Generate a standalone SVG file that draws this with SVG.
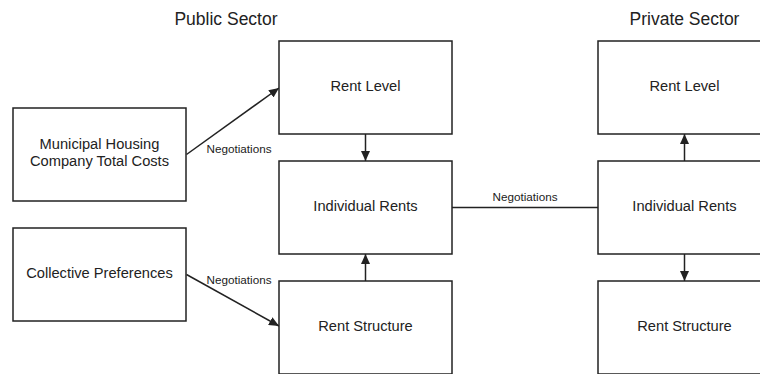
<svg xmlns="http://www.w3.org/2000/svg" width="760" height="374" viewBox="0 0 760 374">
<style>
.box{fill:#fff;stroke:#222;stroke-width:1.5}
.t{font-family:"Liberation Sans",Arial,sans-serif;font-size:14.67px;fill:#222;text-anchor:middle}
.h{font-family:"Liberation Sans",Arial,sans-serif;font-size:17.5px;fill:#222;text-anchor:middle}
.n{font-family:"Liberation Sans",Arial,sans-serif;font-size:11.7px;fill:#222;text-anchor:middle}
.c{fill:none;stroke:#222;stroke-width:1.5}
</style>
<defs>
<marker id="ah" viewBox="0 0 10 9" refX="10" refY="4.5" markerWidth="10" markerHeight="9" markerUnits="userSpaceOnUse" orient="auto">
<path d="M0,0 L10,4.5 L0,9 Z" fill="#222"/>
</marker>
</defs>
<rect width="760" height="374" fill="#fff"/>
<text class="h" x="226" y="25">Public Sector</text>
<text class="h" x="684.5" y="25">Private Sector</text>
<g id="connectors">
<line class="c" x1="186.5" y1="154.5" x2="279" y2="88" marker-end="url(#ah)"/>
<line class="c" x1="186.5" y1="274.5" x2="279" y2="326" marker-end="url(#ah)"/>
<line class="c" x1="365.5" y1="134" x2="365.5" y2="161" marker-end="url(#ah)"/>
<line class="c" x1="365.5" y1="281" x2="365.5" y2="254" marker-end="url(#ah)"/>
<line class="c" x1="452" y1="207.5" x2="598" y2="207.5"/>
<line class="c" x1="684.5" y1="161" x2="684.5" y2="134" marker-end="url(#ah)"/>
<line class="c" x1="684.5" y1="254" x2="684.5" y2="281" marker-end="url(#ah)"/>
<text class="n" x="239" y="152.5">Negotiations</text>
<text class="n" x="239" y="283.5">Negotiations</text>
<text class="n" x="525" y="200.5">Negotiations</text>
</g>
<g id="mhc">
<rect class="box" x="13" y="108" width="173" height="93"/>
<text class="t" x="99.5" y="148.5">Municipal Housing</text>
<text class="t" x="99.5" y="165.5">Company Total Costs</text>
</g>
<g id="cp">
<rect class="box" x="13" y="228" width="173" height="93"/>
<text class="t" x="99.5" y="278">Collective Preferences</text>
</g>
<g id="pub-rl">
<rect class="box" x="279" y="41" width="173" height="93"/>
<text class="t" x="365.5" y="91">Rent Level</text>
</g>
<g id="pub-ir">
<rect class="box" x="279" y="161" width="173" height="93"/>
<text class="t" x="365.5" y="211">Individual Rents</text>
</g>
<g id="pub-rs">
<rect class="box" x="279" y="281" width="173" height="93"/>
<text class="t" x="365.5" y="331">Rent Structure</text>
</g>
<g id="priv-rl">
<rect class="box" x="598" y="41" width="173" height="93"/>
<text class="t" x="684.5" y="91">Rent Level</text>
</g>
<g id="priv-ir">
<rect class="box" x="598" y="161" width="173" height="93"/>
<text class="t" x="684.5" y="211">Individual Rents</text>
</g>
<g id="priv-rs">
<rect class="box" x="598" y="281" width="173" height="93"/>
<text class="t" x="684.5" y="331">Rent Structure</text>
</g>
</svg>
